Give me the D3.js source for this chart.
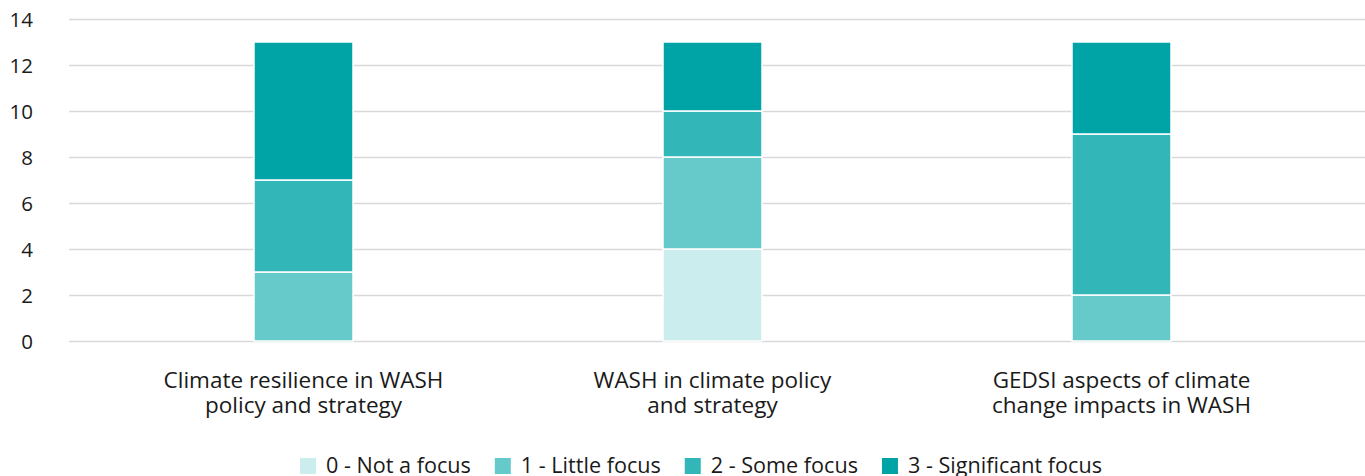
<!DOCTYPE html>
<html>
<head>
<meta charset="utf-8">
<script src="https://cdn.jsdelivr.net/npm/d3@7"></script>
<style>
  body { margin: 0; background: #fff; }
  text { font-family: "Open Sans", sans-serif; fill: #1a1a1a; }
</style>
</head>
<body>
<div id="chart"></div>
<script>
const categories = [
    ["Climate resilience in WASH", "policy and strategy"],
    ["WASH in climate policy", "and strategy"],
    ["GEDSI aspects of climate", "change impacts in WASH"]
];
const seriesNames = ["0 - Not a focus", "1 - Little focus", "2 - Some focus", "3 - Significant focus"];
const notFocus = [0, 4, 0];
const littleFocus = [3, 4, 2];
const someFocus = [4, 2, 7];
const significantFocus = [6, 3, 4];
const yTicks = [0, 2, 4, 6, 8, 10, 12, 14];
const colors = ["#cceded", "#66c9ca", "#33b6b8", "#00a4a7"];

const width = 1365, height = 476;
const svg = d3.select("#chart").append("svg")
    .attr("width", width)
    .attr("height", height);

let table = categories.map((c, i) => ({
    key: i,
    s0: notFocus[i],
    s1: littleFocus[i],
    s2: someFocus[i],
    s3: significantFocus[i]
}));
let stacked = d3.stack().keys(["s0", "s1", "s2", "s3"])(table);

let xScale = d3.scaleBand().domain(d3.range(categories.length)).range([99, 1326]).paddingInner(0.758).paddingOuter(0.379);
let yScale = d3.scaleLinear().domain([0, 14]).range([341, 19]);

// gridlines
svg.append("g").selectAll("line").data(yTicks).enter().append("line")
    .attr("x1", 69).attr("x2", width)
    .attr("y1", d => yScale(d) + 0.5).attr("y2", d => yScale(d) + 0.5)
    .attr("stroke", "#d9d9d9").attr("stroke-width", 1.3);

// y axis labels
let yAxis = d3.axisLeft(yScale).tickValues(yTicks).tickSize(0).tickPadding(0);
let yG = svg.append("g").attr("transform", "translate(33,0)").call(yAxis);
yG.select(".domain").remove();
yG.selectAll("text").style("font-family", "'Open Sans', sans-serif").style("font-size", "20.5px").attr("fill", "#1a1a1a").attr("dy", "0.35em");

// bars
svg.append("g").selectAll("g").data(stacked).enter().append("g")
    .attr("fill", (d, i) => colors[i])
    .selectAll("rect").data(d => d.filter(p => p[1] - p[0] > 0)).enter().append("rect")
    .attr("x", d => xScale(d.data.key))
    .attr("width", xScale.bandwidth())
    .attr("y", d => yScale(d[1]))
    .attr("height", d => yScale(d[0]) - yScale(d[1]))
    .attr("stroke", "#fff")
    .attr("stroke-width", 1.5);

// category labels
let labels = svg.append("g").selectAll("text").data(categories).enter().append("text")
    .attr("text-anchor", "middle")
    .attr("x", (d, i) => xScale(i) + xScale.bandwidth() / 2)
    .attr("y", 388)
    .style("font-size", "22.5px");
labels.selectAll("tspan").data(d => d).enter().append("tspan")
    .attr("x", function () { return this.parentNode.getAttribute("x"); })
    .attr("dy", (d, i) => i === 0 ? 0 : 25)
    .text(d => d);

// legend
let legend = svg.append("g");
let items = legend.selectAll("g").data(seriesNames).enter().append("g");
items.append("rect").attr("width", 16).attr("height", 16).attr("y", 458)
    .attr("fill", (d, i) => colors[i]);
items.append("text").attr("x", 26).attr("y", 473).style("font-size", "21.6px").text(d => d);
let xpos = 300;
items.each(function () {
    let w = d3.select(this).select("text").node().getComputedTextLength();
    d3.select(this).attr("transform", `translate(${xpos},0)`);
    xpos += 26 + w + 24;
});
</script>
</body>
</html>
